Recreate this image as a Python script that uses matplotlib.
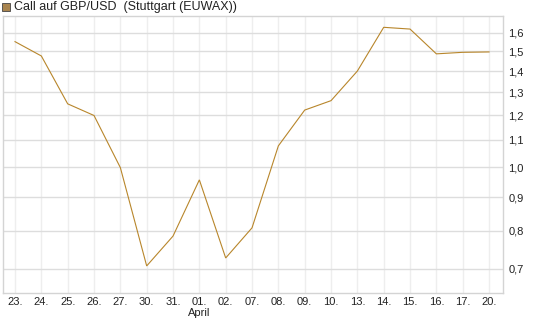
import matplotlib
matplotlib.use("Agg")
import matplotlib.pyplot as plt
from matplotlib.ticker import FixedLocator, NullLocator, FixedFormatter
from matplotlib.patches import Rectangle

plt.rcParams['font.family'] = ['Liberation Sans', 'DejaVu Sans']

dates = ["23.", "24.", "25.", "26.", "27.", "30.", "31.", "01.", "02.", "07.",
         "08.", "09.", "10.", "13.", "14.", "15.", "16.", "17.", "20."]
values = [1.552, 1.476, 1.248, 1.198, 0.998, 0.707, 0.785, 0.956, 0.727, 0.808,
          1.077, 1.221, 1.262, 1.40, 1.632, 1.622, 1.487, 1.495, 1.497]
y_ticks = [0.7, 0.8, 0.9, 1.0, 1.1, 1.2, 1.3, 1.4, 1.5, 1.6]
y_labels = ["0,7", "0,8", "0,9", "1,0", "1,1", "1,2", "1,3", "1,4", "1,5", "1,6"]
title = "Call auf GBP/USD  (Stuttgart (EUWAX))"
month_label = "April"
month_index = 7

W, H = 545, 327
fig = plt.figure(figsize=(W / 100, H / 100), dpi=100)
ax = fig.add_axes([3 / W, (H - 293) / H, 500 / W, (293 - 16) / H])

x = list(range(len(dates)))
ax.plot(x, values, color="#b8862b", lw=0.8, solid_joinstyle="miter")

ax.set_yscale("log")
ax.set_ylim(0.643, 1.698)
ax.set_xlim(-0.456, len(dates) - 1 + 0.53)

ax.yaxis.set_major_locator(FixedLocator(y_ticks))
ax.yaxis.set_major_formatter(FixedFormatter(y_labels))
ax.yaxis.set_minor_locator(NullLocator())
ax.yaxis.tick_right()
ax.set_xticks(x)
ax.set_xticklabels(dates)
ax.xaxis.set_minor_locator(NullLocator())

ax.tick_params(axis="both", length=0, labelsize=8, colors="#222222")
ax.tick_params(axis="y", pad=4)
ax.tick_params(axis="x", pad=3)

ax.grid(axis="y", color="#dddddd", lw=1.0)
ax.grid(axis="x", color="#eeeeee", lw=1.0)
ax.set_axisbelow(True)
for s in ax.spines.values():
    s.set_color("#d4d4d4")
    s.set_linewidth(1.0)

# month label under "01."
ax.text(month_index, -0.054, month_label, transform=ax.get_xaxis_transform(),
        ha="center", va="top", fontsize=8, color="#222222")

# legend / title
fig.patches.append(Rectangle((2 / W, (H - 11) / H), 8 / W, 8 / H,
                             transform=fig.transFigure, facecolor="#a8844f",
                             edgecolor="#444444", lw=0.6))
fig.text(14 / W, (H - 7) / H, title, ha="left", va="center",
         fontsize=9, color="#222222")

fig.savefig("out.png", dpi=100)
